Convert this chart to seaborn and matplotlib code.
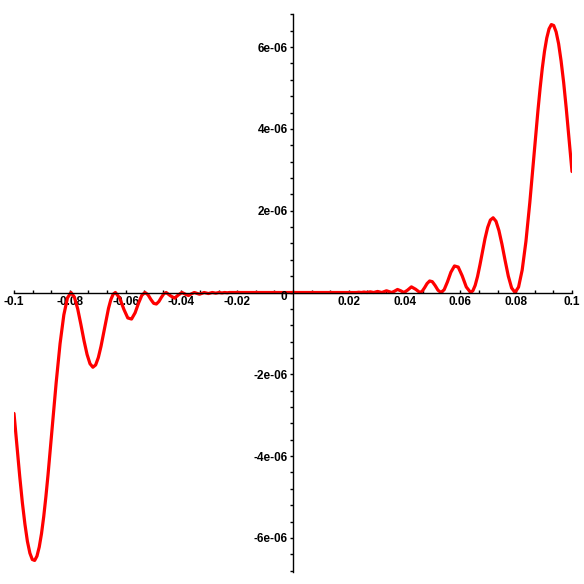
import matplotlib
matplotlib.use("Agg")
import matplotlib.pyplot as plt
from matplotlib.ticker import MultipleLocator, FuncFormatter
import seaborn as sns
import numpy as np

# Curve values (positive half, x ascending; y in units of 1e-6).
# The curve is point-symmetric about the origin, so the negative half mirrors it.
x_pos = [0.0, 0.02274, 0.02358, 0.02449, 0.02546, 0.02653, 0.02768, 0.02894,
         0.03032, 0.03183, 0.03351, 0.03537, 0.03638, 0.03745, 0.03858, 0.03979,
         0.04107, 0.04244, 0.04390, 0.04547, 0.04630, 0.04716, 0.04805, 0.04897,
         0.04993, 0.05093, 0.05197, 0.05305, 0.05418, 0.05536, 0.05659, 0.05787,
         0.05922, 0.06063, 0.06211, 0.06366, 0.06447, 0.06529, 0.06614, 0.06701,
         0.06791, 0.06882, 0.06977, 0.07074, 0.07173, 0.07276, 0.07381, 0.07490,
         0.07602, 0.07717, 0.07835, 0.07958, 0.08084, 0.08214, 0.08349, 0.08488,
         0.08633, 0.08706, 0.08781, 0.08857, 0.08935, 0.09014, 0.09095, 0.09177,
         0.09260, 0.09345, 0.09431, 0.09520, 0.09609, 0.09701, 0.09794, 0.1]
y_pos = [0.0, 0.0, 0.0073, 0.0, 0.0107, 0.0, 0.0162, 0.0,
         0.0256, 0.0, 0.0423, 0.0, 0.0319, 0.0737, 0.0427, 0.0,
         0.0584, 0.1377, 0.0815, 0.0, 0.0311, 0.1166, 0.2186, 0.2816,
         0.2649, 0.1713, 0.0555, 0.0, 0.0684, 0.2600, 0.4954, 0.649,
         0.6217, 0.4096, 0.1353, 0.0, 0.0424, 0.1737, 0.3907, 0.6756,
         0.9985, 1.3178, 1.5903, 1.7714, 1.8266, 1.7407, 1.5144, 1.1786,
         0.7838, 0.4007, 0.1125, 0.0, 0.132, 0.548, 1.25, 2.20,
         3.31, 3.889, 4.46, 4.992, 5.48, 5.894, 6.22, 6.444,
         6.55, 6.526, 6.37, 6.081, 5.66, 5.133, 4.50, 2.957]

x_neg = [-v for v in reversed(x_pos[1:])]
y_neg = [-v for v in reversed(y_pos[1:])]
x_all = np.array(x_neg + x_pos)
y_all = np.array(y_neg + y_pos) * 1e-6

sns.set_style("white")
plt.rcParams['font.family'] = ['Liberation Sans', 'DejaVu Sans']
plt.rcParams['axes.unicode_minus'] = False
plt.rcParams['text.color'] = 'black'
plt.rcParams['xtick.color'] = 'black'
plt.rcParams['ytick.color'] = 'black'
plt.rcParams['xtick.labelcolor'] = 'black'
plt.rcParams['ytick.labelcolor'] = 'black'

fig = plt.figure(figsize=(5.84, 5.84), dpi=100)
ax = fig.add_axes([14 / 584, 12.5 / 584, 558 / 584, 558 / 584])

sns.lineplot(x=x_all, y=y_all, sort=False, estimator=None, color="#ff0000",
             linewidth=2.3, ax=ax)
for ln in ax.lines:
    ln.set_solid_joinstyle("round")

ax.set_xlim(-0.1, 0.1)
ax.set_ylim(-6.82e-6, 6.82e-6)

for s in ["top", "right"]:
    ax.spines[s].set_visible(False)
ax.spines["left"].set_position(("data", 0))
ax.spines["bottom"].set_position(("data", 0))
for s in ["left", "bottom"]:
    ax.spines[s].set_color("black")
    ax.spines[s].set_linewidth(1.0)

ax.xaxis.set_major_locator(MultipleLocator(0.02))
ax.xaxis.set_minor_locator(MultipleLocator(0.02 / 3))
ax.yaxis.set_major_locator(MultipleLocator(2e-6))
ax.yaxis.set_minor_locator(MultipleLocator(0.4e-6))

def xfmt(v, pos):
    if abs(v) < 1e-9:
        return ""
    return f"{v:g}"

def yfmt(v, pos):
    if abs(v) < 1e-12:
        return ""
    return f"{v:.0e}"

ax.xaxis.set_major_formatter(FuncFormatter(xfmt))
ax.yaxis.set_major_formatter(FuncFormatter(yfmt))

ax.tick_params(axis="x", which="both", bottom=True, top=False, direction="in",
               length=2.3, width=1, color="black", pad=2.5, labelsize=8.5)
ax.tick_params(axis="y", which="both", left=True, right=False, direction="out",
               length=2.3, width=1, color="black", pad=1.5, labelsize=8.5)
for lab in ax.get_xticklabels() + ax.get_yticklabels():
    lab.set_fontweight("bold")
    lab.set_color("black")

ax.annotate("0", xy=(0, 0), xytext=(-9.5, -5), textcoords="offset pixels",
            ha="center", va="center", fontsize=8.5, fontweight="bold",
            color="black")

ax.grid(False)
ax.set_xlabel("")
ax.set_ylabel("")

fig.savefig("out.png", dpi=100)
